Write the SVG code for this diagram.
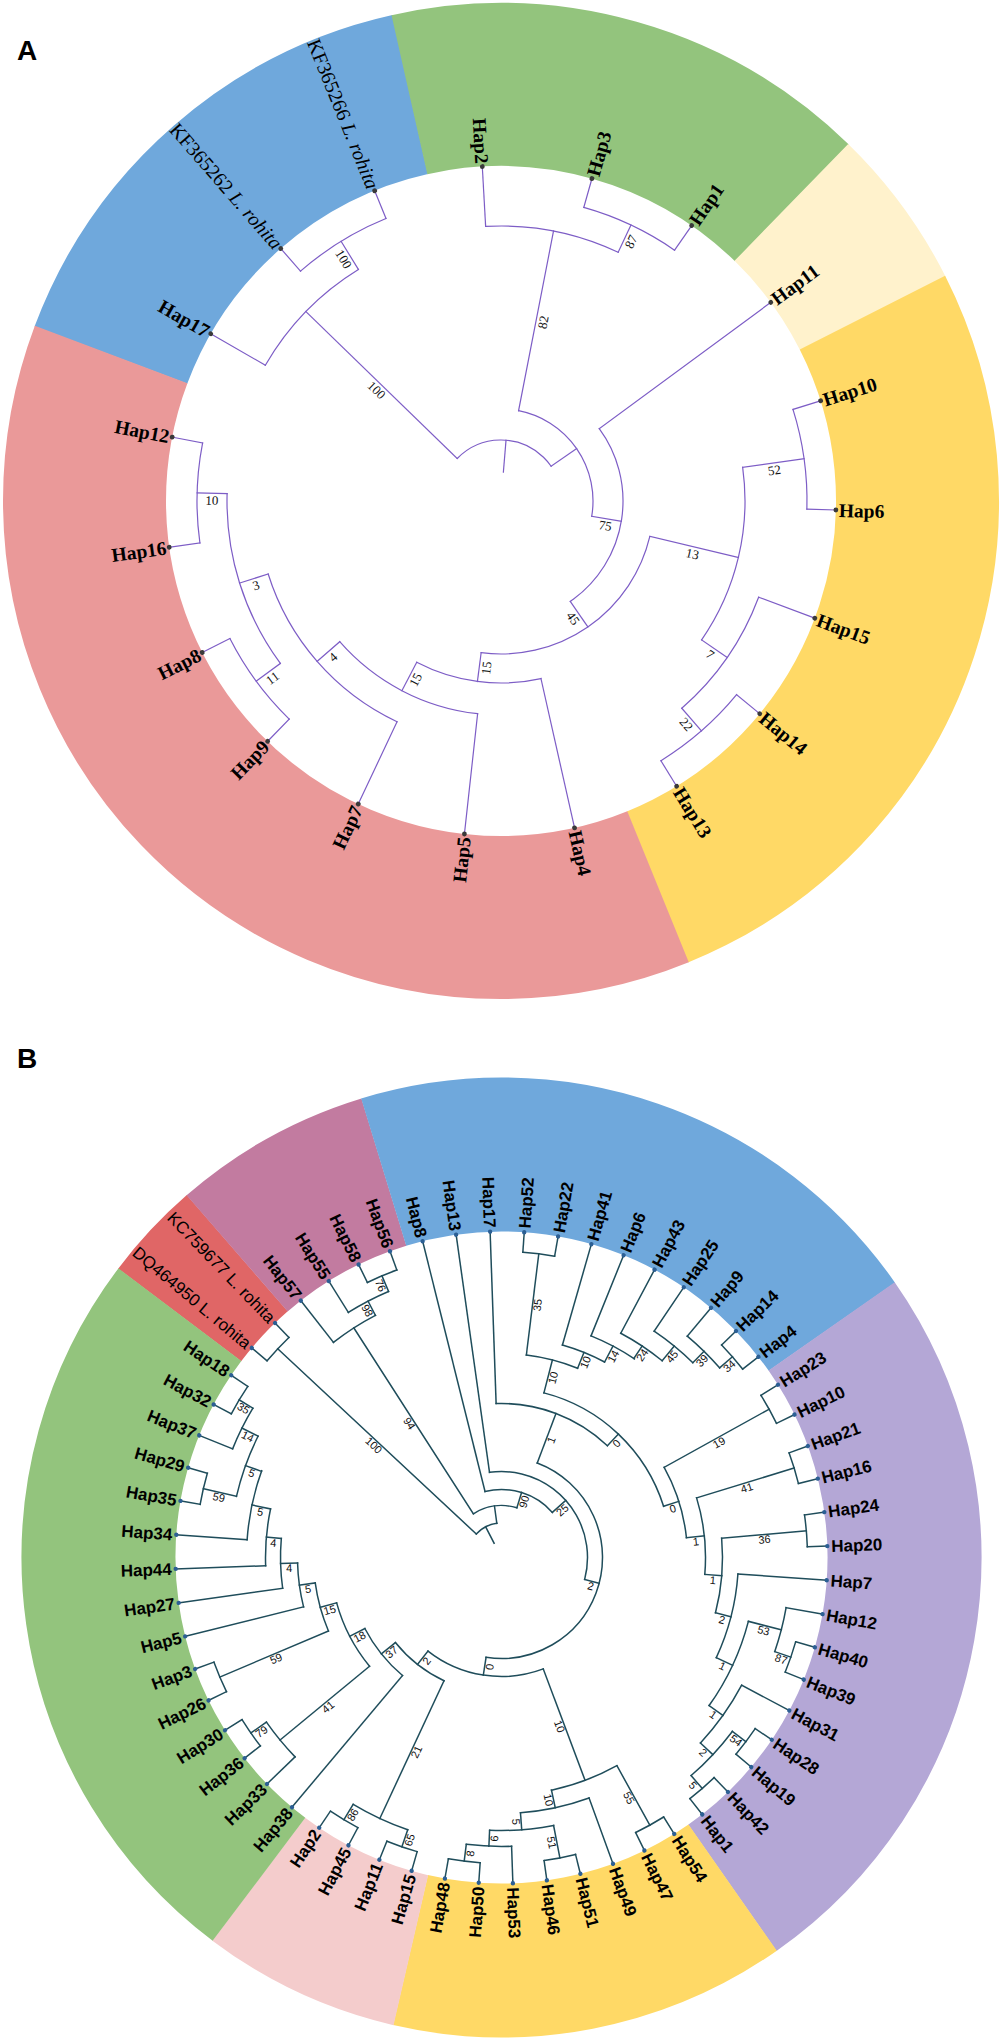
<svg xmlns="http://www.w3.org/2000/svg" width="1004" height="2041" viewBox="0 0 1004 2041">
<style>
.ring circle{fill:none}
.ca line,.ca circle{stroke:#7d5dc6;stroke-width:1.2;fill:none;stroke-linecap:square}
.cb line,.cb circle{stroke:#1f4d5b;stroke-width:1.5;fill:none;stroke-linecap:square}
.da{fill:#3a3a3a}
.db{fill:#2c5f94}
.ta{font-family:"Liberation Serif","Times New Roman",serif;font-weight:bold;font-size:19.5px;fill:#000}
.tk{font-family:"Liberation Serif","Times New Roman",serif;font-size:20px;fill:#000}
.tb{font-family:"Liberation Sans",Arial,sans-serif;font-weight:bold;font-size:17px;fill:#000}
.tr{font-family:"Liberation Sans",Arial,sans-serif;font-size:17px;fill:#000}
.sa text{font-family:"Liberation Serif","Times New Roman",serif;font-size:13px;fill:#111;text-anchor:middle}
.sb text{font-family:"Liberation Sans",Arial,sans-serif;font-size:11px;fill:#111;text-anchor:middle}
.e{text-anchor:end}
.pl{font-family:"Liberation Sans",Arial,sans-serif;font-weight:bold;font-size:28px;fill:#000}
</style>
<rect width="1004" height="2041" fill="#fff"/>
<text class="pl" x="17" y="60">A</text>
<text class="pl" x="17" y="1068">B</text>

<!-- Panel A clade ring -->
<g id="clades-a" class="ring" transform="translate(501 501)" stroke-width="163">
<circle r="416.5" pathLength="360" stroke="#6fa8dc" stroke-dasharray="56.9 360" transform="rotate(200.5)"/>
<circle r="416.5" pathLength="360" stroke="#93c47d" stroke-dasharray="57 360" transform="rotate(257.3)"/>
<circle r="416.5" pathLength="360" stroke="#fff2cc" stroke-dasharray="19 360" transform="rotate(314.2)"/>
<circle r="416.5" pathLength="360" stroke="#ffd966" stroke-dasharray="94.85 360" transform="rotate(333.1)"/>
<circle r="416.5" pathLength="360" stroke="#ea9999" stroke-dasharray="132.75 360" transform="rotate(67.85)"/>
</g>

<!-- Panel A connectors -->
<g id="connectors-a" class="ca" transform="translate(501 501)">
<circle r="305" pathLength="360" stroke-dasharray="18.95 360" transform="rotate(228.9)"/>
<circle r="272" pathLength="360" stroke-dasharray="28.43 360" transform="rotate(209.95)"/>
<circle r="305" pathLength="360" stroke-dasharray="18.94 360" transform="rotate(285.75)"/>
<circle r="275" pathLength="360" stroke-dasharray="28.42 360" transform="rotate(266.8)"/>
<circle r="306" pathLength="360" stroke-dasharray="18.95 360" transform="rotate(342.59)"/>
<circle r="305" pathLength="360" stroke-dasharray="18.95 360" transform="rotate(39.43)"/>
<circle r="275" pathLength="360" stroke-dasharray="28.43 360" transform="rotate(20.48)"/>
<circle r="244" pathLength="360" stroke-dasharray="42.63 360" transform="rotate(352.065)"/>
<circle r="304" pathLength="360" stroke-dasharray="18.95 360" transform="rotate(134.16)"/>
<circle r="304" pathLength="360" stroke-dasharray="18.94 360" transform="rotate(172.06)"/>
<circle r="274" pathLength="360" stroke-dasharray="37.9 360" transform="rotate(143.635)"/>
<circle r="244" pathLength="360" stroke-dasharray="47.36 360" transform="rotate(115.22)"/>
<circle r="214" pathLength="360" stroke-dasharray="42.63 360" transform="rotate(96.27)"/>
<circle r="182" pathLength="360" stroke-dasharray="40.27 360" transform="rotate(77.32)"/>
<circle r="153" pathLength="360" stroke-dasharray="84.07 360" transform="rotate(13.38)"/>
<circle r="122" pathLength="360" stroke-dasharray="91.78 360" transform="rotate(323.64)"/>
<circle r="92" pathLength="360" stroke-dasharray="88.52 360" transform="rotate(281.01)"/>
<circle r="61" pathLength="360" stroke-dasharray="101.11 360" transform="rotate(224.16)"/>
<line x1="272" x2="305" transform="rotate(238.375)"/>
<line x1="61" x2="272" transform="rotate(224.16)"/>
<line x1="275" x2="305" transform="rotate(295.22)"/>
<line x1="92" x2="275" transform="rotate(281.01)"/>
<line x1="244" x2="306" transform="rotate(352.065)"/>
<line x1="275" x2="305" transform="rotate(48.905)"/>
<line x1="244" x2="275" transform="rotate(34.69)"/>
<line x1="153" x2="244" transform="rotate(13.38)"/>
<line x1="274" x2="304" transform="rotate(143.635)"/>
<line x1="274" x2="304" transform="rotate(181.53)"/>
<line x1="244" x2="274" transform="rotate(162.58)"/>
<line x1="214" x2="244" transform="rotate(138.9)"/>
<line x1="182" x2="214" transform="rotate(117.585)"/>
<line x1="153" x2="182" transform="rotate(97.45)"/>
<line x1="122" x2="153" transform="rotate(55.415)"/>
<line x1="92" x2="122" transform="rotate(9.53)"/>
<line x1="61" x2="92" transform="rotate(325.27)"/>
<line x1="29" x2="61" transform="rotate(274.715)"/>
<line x1="275" x2="335" transform="rotate(266.8)"/>
<line x1="305" x2="335" transform="rotate(285.75)"/>
<line x1="305" x2="335" transform="rotate(304.69)"/>
<line x1="122" x2="335" transform="rotate(323.64)"/>
<line x1="306" x2="335" transform="rotate(342.59)"/>
<line x1="306" x2="335" transform="rotate(1.54)"/>
<line x1="275" x2="335" transform="rotate(20.48)"/>
<line x1="305" x2="335" transform="rotate(39.43)"/>
<line x1="305" x2="335" transform="rotate(58.38)"/>
<line x1="182" x2="335" transform="rotate(77.32)"/>
<line x1="214" x2="335" transform="rotate(96.27)"/>
<line x1="244" x2="335" transform="rotate(115.22)"/>
<line x1="304" x2="335" transform="rotate(134.16)"/>
<line x1="304" x2="335" transform="rotate(153.11)"/>
<line x1="304" x2="335" transform="rotate(172.06)"/>
<line x1="304" x2="335" transform="rotate(191)"/>
<line x1="272" x2="335" transform="rotate(209.95)"/>
<line x1="305" x2="335" transform="rotate(228.9)"/>
<line x1="305" x2="335" transform="rotate(247.85)"/>
</g>

<!-- Panel A support values -->
<g id="support-a" class="sa" transform="translate(501 501)">
<text transform="rotate(238.375) translate(288.5 0) rotate(180)" y="7" dy=".35em">100</text>
<text transform="rotate(224.16) translate(166.5 0) rotate(180)" y="7" dy=".35em">100</text>
<text transform="rotate(295.22) translate(290 0)" y="7" dy=".35em">87</text>
<text transform="rotate(281.01) translate(183.5 0)" y="7" dy=".35em">82</text>
<text transform="rotate(352.065) translate(275 0)" y="7" dy=".35em">52</text>
<text transform="rotate(48.905) translate(290 0)" y="7" dy=".35em">22</text>
<text transform="rotate(34.69) translate(259.5 0)" y="7" dy=".35em">7</text>
<text transform="rotate(13.38) translate(198.5 0)" y="7" dy=".35em">13</text>
<text transform="rotate(143.635) translate(289 0) rotate(180)" y="7" dy=".35em">11</text>
<text transform="rotate(181.53) translate(289 0) rotate(180)" y="7" dy=".35em">10</text>
<text transform="rotate(162.58) translate(259 0) rotate(180)" y="7" dy=".35em">3</text>
<text transform="rotate(138.9) translate(229 0) rotate(180)" y="7" dy=".35em">4</text>
<text transform="rotate(117.585) translate(198 0) rotate(180)" y="7" dy=".35em">15</text>
<text transform="rotate(97.45) translate(167.5 0) rotate(180)" y="7" dy=".35em">15</text>
<text transform="rotate(55.415) translate(137.5 0)" y="7" dy=".35em">45</text>
<text transform="rotate(9.53) translate(107 0)" y="7" dy=".35em">75</text>
</g>

<!-- Panel A leaves -->
<g id="leaves-a" transform="translate(501 501)">
<g id="a-hap2" transform="rotate(266.8)"><circle class="da" cx="335" r="2.4"/><text class="ta e" transform="translate(338 0) rotate(180)" dy=".35em">Hap2</text></g>
<g id="a-hap3" transform="rotate(285.75)"><circle class="da" cx="335" r="2.4"/><text class="ta" x="338" dy=".35em">Hap3</text></g>
<g id="a-hap1" transform="rotate(304.69)"><circle class="da" cx="335" r="2.4"/><text class="ta" x="338" dy=".35em">Hap1</text></g>
<g id="a-hap11" transform="rotate(323.64)"><circle class="da" cx="335" r="2.4"/><text class="ta" x="338" dy=".35em">Hap11</text></g>
<g id="a-hap10" transform="rotate(342.59)"><circle class="da" cx="335" r="2.4"/><text class="ta" x="338" dy=".35em">Hap10</text></g>
<g id="a-hap6" transform="rotate(1.54)"><circle class="da" cx="335" r="2.4"/><text class="ta" x="338" dy=".35em">Hap6</text></g>
<g id="a-hap15" transform="rotate(20.48)"><circle class="da" cx="335" r="2.4"/><text class="ta" x="338" dy=".35em">Hap15</text></g>
<g id="a-hap14" transform="rotate(39.43)"><circle class="da" cx="335" r="2.4"/><text class="ta" x="338" dy=".35em">Hap14</text></g>
<g id="a-hap13" transform="rotate(58.38)"><circle class="da" cx="335" r="2.4"/><text class="ta" x="338" dy=".35em">Hap13</text></g>
<g id="a-hap4" transform="rotate(77.32)"><circle class="da" cx="335" r="2.4"/><text class="ta" x="338" dy=".35em">Hap4</text></g>
<g id="a-hap5" transform="rotate(96.27)"><circle class="da" cx="335" r="2.4"/><text class="ta e" transform="translate(338 0) rotate(180)" dy=".35em">Hap5</text></g>
<g id="a-hap7" transform="rotate(115.22)"><circle class="da" cx="335" r="2.4"/><text class="ta e" transform="translate(338 0) rotate(180)" dy=".35em">Hap7</text></g>
<g id="a-hap9" transform="rotate(134.16)"><circle class="da" cx="335" r="2.4"/><text class="ta e" transform="translate(338 0) rotate(180)" dy=".35em">Hap9</text></g>
<g id="a-hap8" transform="rotate(153.11)"><circle class="da" cx="335" r="2.4"/><text class="ta e" transform="translate(338 0) rotate(180)" dy=".35em">Hap8</text></g>
<g id="a-hap16" transform="rotate(172.06)"><circle class="da" cx="335" r="2.4"/><text class="ta e" transform="translate(338 0) rotate(180)" dy=".35em">Hap16</text></g>
<g id="a-hap12" transform="rotate(191)"><circle class="da" cx="335" r="2.4"/><text class="ta e" transform="translate(338 0) rotate(180)" dy=".35em">Hap12</text></g>
<g id="a-hap17" transform="rotate(209.95)"><circle class="da" cx="335" r="2.4"/><text class="ta e" transform="translate(338 0) rotate(180)" dy=".35em">Hap17</text></g>
<g id="a-kf365262" transform="rotate(228.9)"><circle class="da" cx="335" r="2.4"/><text class="tk e" transform="translate(338 0) rotate(180)" dy=".35em">KF365262 <tspan font-style="italic">L. rohita</tspan></text></g>
<g id="a-kf365266" transform="rotate(247.85)"><circle class="da" cx="335" r="2.4"/><text class="tk e" transform="translate(338 0) rotate(180)" dy=".35em">KF365266 <tspan font-style="italic">L. rohita</tspan></text></g>
</g>

<!-- Panel B clade ring -->
<g id="clades-b" class="ring" transform="translate(501.5 1557.5)" stroke-width="154">
<circle r="403" pathLength="360" stroke="#e06666" stroke-dasharray="12.05 360" transform="rotate(217)"/>
<circle r="403" pathLength="360" stroke="#c27ba0" stroke-dasharray="24.05 360" transform="rotate(229)"/>
<circle r="403" pathLength="360" stroke="#6fa8dc" stroke-dasharray="72.05 360" transform="rotate(253)"/>
<circle r="403" pathLength="360" stroke="#b4a7d6" stroke-dasharray="90.05 360" transform="rotate(325)"/>
<circle r="403" pathLength="360" stroke="#ffd966" stroke-dasharray="48.05 360" transform="rotate(55)"/>
<circle r="403" pathLength="360" stroke="#f4cccc" stroke-dasharray="24.05 360" transform="rotate(103)"/>
<circle r="403" pathLength="360" stroke="#93c47d" stroke-dasharray="90.05 360" transform="rotate(127)"/>
</g>

<!-- Panel B connectors -->
<g id="connectors-b" class="cb" transform="translate(501.5 1557.5)">
<circle r="306" pathLength="360" stroke-dasharray="6 360" transform="rotate(220)"/>
<circle r="306" pathLength="360" stroke-dasharray="6 360" transform="rotate(244)"/>
<circle r="289" pathLength="360" stroke-dasharray="9 360" transform="rotate(238)"/>
<circle r="273" pathLength="360" stroke-dasharray="10.5 360" transform="rotate(232)"/>
<circle r="306" pathLength="360" stroke-dasharray="6 360" transform="rotate(316)"/>
<circle r="289" pathLength="360" stroke-dasharray="9 360" transform="rotate(310)"/>
<circle r="273" pathLength="360" stroke-dasharray="10.5 360" transform="rotate(304)"/>
<circle r="254" pathLength="360" stroke-dasharray="11.25 360" transform="rotate(298)"/>
<circle r="239" pathLength="360" stroke-dasharray="11.81 360" transform="rotate(292)"/>
<circle r="221" pathLength="360" stroke-dasharray="11.81 360" transform="rotate(286)"/>
<circle r="306" pathLength="360" stroke-dasharray="6 360" transform="rotate(274)"/>
<circle r="204" pathLength="360" stroke-dasharray="14.91 360" transform="rotate(277)"/>
<circle r="306" pathLength="360" stroke-dasharray="6 360" transform="rotate(328)"/>
<circle r="306" pathLength="360" stroke-dasharray="6 360" transform="rotate(340)"/>
<circle r="306" pathLength="360" stroke-dasharray="6 360" transform="rotate(352)"/>
<circle r="306" pathLength="360" stroke-dasharray="6 360" transform="rotate(16)"/>
<circle r="289" pathLength="360" stroke-dasharray="9 360" transform="rotate(10)"/>
<circle r="306" pathLength="360" stroke-dasharray="6 360" transform="rotate(34)"/>
<circle r="306" pathLength="360" stroke-dasharray="6 360" transform="rotate(46)"/>
<circle r="289" pathLength="360" stroke-dasharray="12 360" transform="rotate(37)"/>
<circle r="272" pathLength="360" stroke-dasharray="15 360" transform="rotate(28)"/>
<circle r="255" pathLength="360" stroke-dasharray="21 360" transform="rotate(14.5)"/>
<circle r="237" pathLength="360" stroke-dasharray="21 360" transform="rotate(4)"/>
<circle r="221" pathLength="360" stroke-dasharray="19.5 360" transform="rotate(355)"/>
<circle r="204" pathLength="360" stroke-dasharray="21.75 360" transform="rotate(343)"/>
<circle r="186" pathLength="360" stroke-dasharray="22.88 360" transform="rotate(331)"/>
<circle r="170" pathLength="360" stroke-dasharray="57.99 360" transform="rotate(284.45)"/>
<circle r="154" pathLength="360" stroke-dasharray="45.45 360" transform="rotate(268)"/>
<circle r="306" pathLength="360" stroke-dasharray="6 360" transform="rotate(58)"/>
<circle r="306" pathLength="360" stroke-dasharray="6 360" transform="rotate(76)"/>
<circle r="306" pathLength="360" stroke-dasharray="6 360" transform="rotate(94)"/>
<circle r="289" pathLength="360" stroke-dasharray="9 360" transform="rotate(88)"/>
<circle r="273" pathLength="360" stroke-dasharray="13.5 360" transform="rotate(79)"/>
<circle r="256" pathLength="360" stroke-dasharray="15.75 360" transform="rotate(70)"/>
<circle r="238" pathLength="360" stroke-dasharray="16.88 360" transform="rotate(61)"/>
<circle r="306" pathLength="360" stroke-dasharray="6 360" transform="rotate(118)"/>
<circle r="306" pathLength="360" stroke-dasharray="6 360" transform="rotate(106)"/>
<circle r="288" pathLength="360" stroke-dasharray="12 360" transform="rotate(109)"/>
<circle r="306" pathLength="360" stroke-dasharray="6 360" transform="rotate(142)"/>
<circle r="287" pathLength="360" stroke-dasharray="9 360" transform="rotate(136)"/>
<circle r="306" pathLength="360" stroke-dasharray="6 360" transform="rotate(154)"/>
<circle r="306" pathLength="360" stroke-dasharray="6 360" transform="rotate(208)"/>
<circle r="290" pathLength="360" stroke-dasharray="9 360" transform="rotate(202)"/>
<circle r="306" pathLength="360" stroke-dasharray="6 360" transform="rotate(190)"/>
<circle r="272" pathLength="360" stroke-dasharray="13.5 360" transform="rotate(193)"/>
<circle r="255" pathLength="360" stroke-dasharray="15.88 360" transform="rotate(184)"/>
<circle r="236" pathLength="360" stroke-dasharray="13.88 360" transform="rotate(178)"/>
<circle r="221" pathLength="360" stroke-dasharray="12.94 360" transform="rotate(172)"/>
<circle r="204" pathLength="360" stroke-dasharray="12.47 360" transform="rotate(166)"/>
<circle r="188" pathLength="360" stroke-dasharray="15.23 360" transform="rotate(157)"/>
<circle r="171" pathLength="360" stroke-dasharray="24.12 360" transform="rotate(140.5)"/>
<circle r="154" pathLength="360" stroke-dasharray="22.56 360" transform="rotate(130)"/>
<circle r="136" pathLength="360" stroke-dasharray="26.28 360" transform="rotate(115)"/>
<circle r="119" pathLength="360" stroke-dasharray="58.7 360" transform="rotate(69.44)"/>
<circle r="101" pathLength="360" stroke-dasharray="168.07 360" transform="rotate(290.72)"/>
<circle r="86" pathLength="360" stroke-dasharray="112.76 360" transform="rotate(262)"/>
<circle r="68" pathLength="360" stroke-dasharray="62.38 360" transform="rotate(256)"/>
<circle r="52" pathLength="360" stroke-dasharray="49.94 360" transform="rotate(237.25)"/>
<circle r="34.5" pathLength="360" stroke-dasharray="39.22 360" transform="rotate(223)"/>
<line x1="34.5" x2="306" transform="rotate(223)"/>
<line x1="289" x2="306" transform="rotate(247)"/>
<line x1="273" x2="289" transform="rotate(242.5)"/>
<line x1="52" x2="273" transform="rotate(237.25)"/>
<line x1="289" x2="306" transform="rotate(319)"/>
<line x1="273" x2="289" transform="rotate(314.5)"/>
<line x1="254" x2="273" transform="rotate(309.25)"/>
<line x1="239" x2="254" transform="rotate(303.63)"/>
<line x1="221" x2="239" transform="rotate(297.81)"/>
<line x1="204" x2="221" transform="rotate(291.91)"/>
<line x1="204" x2="306" transform="rotate(277)"/>
<line x1="170" x2="204" transform="rotate(284.45)"/>
<line x1="186" x2="306" transform="rotate(331)"/>
<line x1="204" x2="306" transform="rotate(343)"/>
<line x1="221" x2="306" transform="rotate(355)"/>
<line x1="289" x2="306" transform="rotate(19)"/>
<line x1="255" x2="289" transform="rotate(14.5)"/>
<line x1="289" x2="306" transform="rotate(37)"/>
<line x1="289" x2="306" transform="rotate(49)"/>
<line x1="272" x2="289" transform="rotate(43)"/>
<line x1="255" x2="272" transform="rotate(35.5)"/>
<line x1="237" x2="255" transform="rotate(25)"/>
<line x1="221" x2="237" transform="rotate(14.5)"/>
<line x1="204" x2="221" transform="rotate(4.75)"/>
<line x1="186" x2="204" transform="rotate(353.88)"/>
<line x1="170" x2="186" transform="rotate(342.44)"/>
<line x1="154" x2="170" transform="rotate(313.45)"/>
<line x1="101" x2="154" transform="rotate(290.72)"/>
<line x1="238" x2="306" transform="rotate(61)"/>
<line x1="273" x2="306" transform="rotate(79)"/>
<line x1="289" x2="306" transform="rotate(97)"/>
<line x1="273" x2="289" transform="rotate(92.5)"/>
<line x1="256" x2="273" transform="rotate(85.75)"/>
<line x1="238" x2="256" transform="rotate(77.88)"/>
<line x1="119" x2="238" transform="rotate(69.44)"/>
<line x1="288" x2="306" transform="rotate(121)"/>
<line x1="288" x2="306" transform="rotate(109)"/>
<line x1="136" x2="288" transform="rotate(115)"/>
<line x1="287" x2="306" transform="rotate(145)"/>
<line x1="171" x2="287" transform="rotate(140.5)"/>
<line x1="188" x2="306" transform="rotate(157)"/>
<line x1="290" x2="306" transform="rotate(211)"/>
<line x1="272" x2="290" transform="rotate(206.5)"/>
<line x1="272" x2="306" transform="rotate(193)"/>
<line x1="255" x2="272" transform="rotate(199.75)"/>
<line x1="236" x2="255" transform="rotate(191.88)"/>
<line x1="221" x2="236" transform="rotate(184.94)"/>
<line x1="204" x2="221" transform="rotate(178.47)"/>
<line x1="188" x2="204" transform="rotate(172.23)"/>
<line x1="171" x2="188" transform="rotate(164.62)"/>
<line x1="154" x2="171" transform="rotate(152.56)"/>
<line x1="136" x2="154" transform="rotate(141.28)"/>
<line x1="119" x2="136" transform="rotate(128.14)"/>
<line x1="101" x2="119" transform="rotate(98.79)"/>
<line x1="86" x2="101" transform="rotate(14.76)"/>
<line x1="68" x2="86" transform="rotate(318.38)"/>
<line x1="52" x2="68" transform="rotate(287.19)"/>
<line x1="34.5" x2="52" transform="rotate(262.22)"/>
<line x1="16" x2="34.5" transform="rotate(242.61)"/>
<line x1="306" x2="326" transform="rotate(220)"/>
<line x1="306" x2="326" transform="rotate(226)"/>
<line x1="273" x2="326" transform="rotate(232)"/>
<line x1="289" x2="326" transform="rotate(238)"/>
<line x1="306" x2="326" transform="rotate(244)"/>
<line x1="306" x2="326" transform="rotate(250)"/>
<line x1="68" x2="326" transform="rotate(256)"/>
<line x1="86" x2="326" transform="rotate(262)"/>
<line x1="154" x2="326" transform="rotate(268)"/>
<line x1="306" x2="326" transform="rotate(274)"/>
<line x1="306" x2="326" transform="rotate(280)"/>
<line x1="221" x2="326" transform="rotate(286)"/>
<line x1="239" x2="326" transform="rotate(292)"/>
<line x1="254" x2="326" transform="rotate(298)"/>
<line x1="273" x2="326" transform="rotate(304)"/>
<line x1="289" x2="326" transform="rotate(310)"/>
<line x1="306" x2="326" transform="rotate(316)"/>
<line x1="306" x2="326" transform="rotate(322)"/>
<line x1="306" x2="326" transform="rotate(328)"/>
<line x1="306" x2="326" transform="rotate(334)"/>
<line x1="306" x2="326" transform="rotate(340)"/>
<line x1="306" x2="326" transform="rotate(346)"/>
<line x1="306" x2="326" transform="rotate(352)"/>
<line x1="306" x2="326" transform="rotate(358)"/>
<line x1="237" x2="326" transform="rotate(4)"/>
<line x1="289" x2="326" transform="rotate(10)"/>
<line x1="306" x2="326" transform="rotate(16)"/>
<line x1="306" x2="326" transform="rotate(22)"/>
<line x1="272" x2="326" transform="rotate(28)"/>
<line x1="306" x2="326" transform="rotate(34)"/>
<line x1="306" x2="326" transform="rotate(40)"/>
<line x1="306" x2="326" transform="rotate(46)"/>
<line x1="306" x2="326" transform="rotate(52)"/>
<line x1="306" x2="326" transform="rotate(58)"/>
<line x1="306" x2="326" transform="rotate(64)"/>
<line x1="256" x2="326" transform="rotate(70)"/>
<line x1="306" x2="326" transform="rotate(76)"/>
<line x1="306" x2="326" transform="rotate(82)"/>
<line x1="289" x2="326" transform="rotate(88)"/>
<line x1="306" x2="326" transform="rotate(94)"/>
<line x1="306" x2="326" transform="rotate(100)"/>
<line x1="306" x2="326" transform="rotate(106)"/>
<line x1="306" x2="326" transform="rotate(112)"/>
<line x1="306" x2="326" transform="rotate(118)"/>
<line x1="306" x2="326" transform="rotate(124)"/>
<line x1="154" x2="326" transform="rotate(130)"/>
<line x1="287" x2="326" transform="rotate(136)"/>
<line x1="306" x2="326" transform="rotate(142)"/>
<line x1="306" x2="326" transform="rotate(148)"/>
<line x1="306" x2="326" transform="rotate(154)"/>
<line x1="306" x2="326" transform="rotate(160)"/>
<line x1="204" x2="326" transform="rotate(166)"/>
<line x1="221" x2="326" transform="rotate(172)"/>
<line x1="236" x2="326" transform="rotate(178)"/>
<line x1="255" x2="326" transform="rotate(184)"/>
<line x1="306" x2="326" transform="rotate(190)"/>
<line x1="306" x2="326" transform="rotate(196)"/>
<line x1="290" x2="326" transform="rotate(202)"/>
<line x1="306" x2="326" transform="rotate(208)"/>
<line x1="306" x2="326" transform="rotate(214)"/>
</g>

<!-- Panel B support values -->
<g id="support-b" class="sb" transform="translate(501.5 1557.5)">
<text transform="rotate(223) translate(170 0) rotate(180)" y="5" dy=".35em">100</text>
<text transform="rotate(247) translate(297.5 0) rotate(180)" y="5" dy=".35em">76</text>
<text transform="rotate(242.5) translate(281 0) rotate(180)" y="5" dy=".35em">98</text>
<text transform="rotate(237.25) translate(162.5 0) rotate(180)" y="5" dy=".35em">94</text>
<text transform="rotate(319) translate(297.5 0)" y="5" dy=".35em">34</text>
<text transform="rotate(314.5) translate(281 0)" y="5" dy=".35em">39</text>
<text transform="rotate(309.25) translate(263.5 0)" y="5" dy=".35em">45</text>
<text transform="rotate(303.63) translate(246.5 0)" y="5" dy=".35em">24</text>
<text transform="rotate(297.81) translate(230 0)" y="5" dy=".35em">14</text>
<text transform="rotate(291.91) translate(212.5 0)" y="5" dy=".35em">10</text>
<text transform="rotate(277) translate(255 0)" y="5" dy=".35em">35</text>
<text transform="rotate(284.45) translate(187 0)" y="5" dy=".35em">10</text>
<text transform="rotate(331) translate(246 0)" y="5" dy=".35em">19</text>
<text transform="rotate(343) translate(255 0)" y="5" dy=".35em">41</text>
<text transform="rotate(355) translate(263.5 0)" y="5" dy=".35em">36</text>
<text transform="rotate(19) translate(297.5 0)" y="5" dy=".35em">87</text>
<text transform="rotate(14.5) translate(272 0)" y="5" dy=".35em">53</text>
<text transform="rotate(37) translate(297.5 0)" y="5" dy=".35em">54</text>
<text transform="rotate(49) translate(297.5 0)" y="5" dy=".35em">5</text>
<text transform="rotate(43) translate(280.5 0)" y="5" dy=".35em">2</text>
<text transform="rotate(35.5) translate(263.5 0)" y="5" dy=".35em">1</text>
<text transform="rotate(25) translate(246 0)" y="5" dy=".35em">1</text>
<text transform="rotate(14.5) translate(229 0)" y="5" dy=".35em">2</text>
<text transform="rotate(4.75) translate(212.5 0)" y="5" dy=".35em">1</text>
<text transform="rotate(353.88) translate(195 0)" y="5" dy=".35em">1</text>
<text transform="rotate(342.44) translate(178 0)" y="5" dy=".35em">0</text>
<text transform="rotate(313.45) translate(162 0)" y="5" dy=".35em">0</text>
<text transform="rotate(290.72) translate(127.5 0)" y="5" dy=".35em">1</text>
<text transform="rotate(61) translate(272 0)" y="5" dy=".35em">55</text>
<text transform="rotate(79) translate(289.5 0)" y="5" dy=".35em">51</text>
<text transform="rotate(97) translate(297.5 0) rotate(180)" y="5" dy=".35em">8</text>
<text transform="rotate(92.5) translate(281 0) rotate(180)" y="5" dy=".35em">6</text>
<text transform="rotate(85.75) translate(264.5 0)" y="5" dy=".35em">5</text>
<text transform="rotate(77.88) translate(247 0)" y="5" dy=".35em">10</text>
<text transform="rotate(69.44) translate(178.5 0)" y="5" dy=".35em">10</text>
<text transform="rotate(121) translate(297 0) rotate(180)" y="5" dy=".35em">86</text>
<text transform="rotate(109) translate(297 0) rotate(180)" y="5" dy=".35em">65</text>
<text transform="rotate(115) translate(212 0) rotate(180)" y="5" dy=".35em">21</text>
<text transform="rotate(145) translate(296.5 0) rotate(180)" y="5" dy=".35em">79</text>
<text transform="rotate(140.5) translate(229 0) rotate(180)" y="5" dy=".35em">41</text>
<text transform="rotate(157) translate(247 0) rotate(180)" y="5" dy=".35em">59</text>
<text transform="rotate(211) translate(298 0) rotate(180)" y="5" dy=".35em">35</text>
<text transform="rotate(206.5) translate(281 0) rotate(180)" y="5" dy=".35em">14</text>
<text transform="rotate(193) translate(289 0) rotate(180)" y="5" dy=".35em">59</text>
<text transform="rotate(199.75) translate(263.5 0) rotate(180)" y="5" dy=".35em">5</text>
<text transform="rotate(191.88) translate(245.5 0) rotate(180)" y="5" dy=".35em">5</text>
<text transform="rotate(184.94) translate(228.5 0) rotate(180)" y="5" dy=".35em">4</text>
<text transform="rotate(178.47) translate(212.5 0) rotate(180)" y="5" dy=".35em">4</text>
<text transform="rotate(172.23) translate(196 0) rotate(180)" y="5" dy=".35em">5</text>
<text transform="rotate(164.62) translate(179.5 0) rotate(180)" y="5" dy=".35em">15</text>
<text transform="rotate(152.56) translate(162.5 0) rotate(180)" y="5" dy=".35em">18</text>
<text transform="rotate(141.28) translate(145 0) rotate(180)" y="5" dy=".35em">37</text>
<text transform="rotate(128.14) translate(127.5 0) rotate(180)" y="5" dy=".35em">2</text>
<text transform="rotate(98.79) translate(110 0) rotate(180)" y="5" dy=".35em">0</text>
<text transform="rotate(14.76) translate(93.5 0)" y="5" dy=".35em">2</text>
<text transform="rotate(318.38) translate(77 0)" y="5" dy=".35em">25</text>
<text transform="rotate(287.19) translate(60 0)" y="5" dy=".35em">90</text>
</g>

<!-- Panel B leaves -->
<g id="leaves-b" transform="translate(501.5 1557.5)">
<g id="b-dq464950" transform="rotate(220)"><circle class="db" cx="326" r="2.2"/><text class="tr e" transform="translate(330 0) rotate(180)" dy=".35em">DQ464950 L. rohita</text></g>
<g id="b-kc759677" transform="rotate(226)"><circle class="db" cx="326" r="2.2"/><text class="tr e" transform="translate(330 0) rotate(180)" dy=".35em">KC759677 L. rohita</text></g>
<g id="b-hap57" transform="rotate(232)"><circle class="db" cx="326" r="2.2"/><text class="tb e" transform="translate(330 0) rotate(180)" dy=".35em">Hap57</text></g>
<g id="b-hap55" transform="rotate(238)"><circle class="db" cx="326" r="2.2"/><text class="tb e" transform="translate(330 0) rotate(180)" dy=".35em">Hap55</text></g>
<g id="b-hap58" transform="rotate(244)"><circle class="db" cx="326" r="2.2"/><text class="tb e" transform="translate(330 0) rotate(180)" dy=".35em">Hap58</text></g>
<g id="b-hap56" transform="rotate(250)"><circle class="db" cx="326" r="2.2"/><text class="tb e" transform="translate(330 0) rotate(180)" dy=".35em">Hap56</text></g>
<g id="b-hap8" transform="rotate(256)"><circle class="db" cx="326" r="2.2"/><text class="tb e" transform="translate(330 0) rotate(180)" dy=".35em">Hap8</text></g>
<g id="b-hap13" transform="rotate(262)"><circle class="db" cx="326" r="2.2"/><text class="tb e" transform="translate(330 0) rotate(180)" dy=".35em">Hap13</text></g>
<g id="b-hap17" transform="rotate(268)"><circle class="db" cx="326" r="2.2"/><text class="tb e" transform="translate(330 0) rotate(180)" dy=".35em">Hap17</text></g>
<g id="b-hap52" transform="rotate(274)"><circle class="db" cx="326" r="2.2"/><text class="tb" x="330" dy=".35em">Hap52</text></g>
<g id="b-hap22" transform="rotate(280)"><circle class="db" cx="326" r="2.2"/><text class="tb" x="330" dy=".35em">Hap22</text></g>
<g id="b-hap41" transform="rotate(286)"><circle class="db" cx="326" r="2.2"/><text class="tb" x="330" dy=".35em">Hap41</text></g>
<g id="b-hap6" transform="rotate(292)"><circle class="db" cx="326" r="2.2"/><text class="tb" x="330" dy=".35em">Hap6</text></g>
<g id="b-hap43" transform="rotate(298)"><circle class="db" cx="326" r="2.2"/><text class="tb" x="330" dy=".35em">Hap43</text></g>
<g id="b-hap25" transform="rotate(304)"><circle class="db" cx="326" r="2.2"/><text class="tb" x="330" dy=".35em">Hap25</text></g>
<g id="b-hap9" transform="rotate(310)"><circle class="db" cx="326" r="2.2"/><text class="tb" x="330" dy=".35em">Hap9</text></g>
<g id="b-hap14" transform="rotate(316)"><circle class="db" cx="326" r="2.2"/><text class="tb" x="330" dy=".35em">Hap14</text></g>
<g id="b-hap4" transform="rotate(322)"><circle class="db" cx="326" r="2.2"/><text class="tb" x="330" dy=".35em">Hap4</text></g>
<g id="b-hap23" transform="rotate(328)"><circle class="db" cx="326" r="2.2"/><text class="tb" x="330" dy=".35em">Hap23</text></g>
<g id="b-hap10" transform="rotate(334)"><circle class="db" cx="326" r="2.2"/><text class="tb" x="330" dy=".35em">Hap10</text></g>
<g id="b-hap21" transform="rotate(340)"><circle class="db" cx="326" r="2.2"/><text class="tb" x="330" dy=".35em">Hap21</text></g>
<g id="b-hap16" transform="rotate(346)"><circle class="db" cx="326" r="2.2"/><text class="tb" x="330" dy=".35em">Hap16</text></g>
<g id="b-hap24" transform="rotate(352)"><circle class="db" cx="326" r="2.2"/><text class="tb" x="330" dy=".35em">Hap24</text></g>
<g id="b-hap20" transform="rotate(358)"><circle class="db" cx="326" r="2.2"/><text class="tb" x="330" dy=".35em">Hap20</text></g>
<g id="b-hap7" transform="rotate(4)"><circle class="db" cx="326" r="2.2"/><text class="tb" x="330" dy=".35em">Hap7</text></g>
<g id="b-hap12" transform="rotate(10)"><circle class="db" cx="326" r="2.2"/><text class="tb" x="330" dy=".35em">Hap12</text></g>
<g id="b-hap40" transform="rotate(16)"><circle class="db" cx="326" r="2.2"/><text class="tb" x="330" dy=".35em">Hap40</text></g>
<g id="b-hap39" transform="rotate(22)"><circle class="db" cx="326" r="2.2"/><text class="tb" x="330" dy=".35em">Hap39</text></g>
<g id="b-hap31" transform="rotate(28)"><circle class="db" cx="326" r="2.2"/><text class="tb" x="330" dy=".35em">Hap31</text></g>
<g id="b-hap28" transform="rotate(34)"><circle class="db" cx="326" r="2.2"/><text class="tb" x="330" dy=".35em">Hap28</text></g>
<g id="b-hap19" transform="rotate(40)"><circle class="db" cx="326" r="2.2"/><text class="tb" x="330" dy=".35em">Hap19</text></g>
<g id="b-hap42" transform="rotate(46)"><circle class="db" cx="326" r="2.2"/><text class="tb" x="330" dy=".35em">Hap42</text></g>
<g id="b-hap1" transform="rotate(52)"><circle class="db" cx="326" r="2.2"/><text class="tb" x="330" dy=".35em">Hap1</text></g>
<g id="b-hap54" transform="rotate(58)"><circle class="db" cx="326" r="2.2"/><text class="tb" x="330" dy=".35em">Hap54</text></g>
<g id="b-hap47" transform="rotate(64)"><circle class="db" cx="326" r="2.2"/><text class="tb" x="330" dy=".35em">Hap47</text></g>
<g id="b-hap49" transform="rotate(70)"><circle class="db" cx="326" r="2.2"/><text class="tb" x="330" dy=".35em">Hap49</text></g>
<g id="b-hap51" transform="rotate(76)"><circle class="db" cx="326" r="2.2"/><text class="tb" x="330" dy=".35em">Hap51</text></g>
<g id="b-hap46" transform="rotate(82)"><circle class="db" cx="326" r="2.2"/><text class="tb" x="330" dy=".35em">Hap46</text></g>
<g id="b-hap53" transform="rotate(88)"><circle class="db" cx="326" r="2.2"/><text class="tb" x="330" dy=".35em">Hap53</text></g>
<g id="b-hap50" transform="rotate(94)"><circle class="db" cx="326" r="2.2"/><text class="tb e" transform="translate(330 0) rotate(180)" dy=".35em">Hap50</text></g>
<g id="b-hap48" transform="rotate(100)"><circle class="db" cx="326" r="2.2"/><text class="tb e" transform="translate(330 0) rotate(180)" dy=".35em">Hap48</text></g>
<g id="b-hap15" transform="rotate(106)"><circle class="db" cx="326" r="2.2"/><text class="tb e" transform="translate(330 0) rotate(180)" dy=".35em">Hap15</text></g>
<g id="b-hap11" transform="rotate(112)"><circle class="db" cx="326" r="2.2"/><text class="tb e" transform="translate(330 0) rotate(180)" dy=".35em">Hap11</text></g>
<g id="b-hap45" transform="rotate(118)"><circle class="db" cx="326" r="2.2"/><text class="tb e" transform="translate(330 0) rotate(180)" dy=".35em">Hap45</text></g>
<g id="b-hap2" transform="rotate(124)"><circle class="db" cx="326" r="2.2"/><text class="tb e" transform="translate(330 0) rotate(180)" dy=".35em">Hap2</text></g>
<g id="b-hap38" transform="rotate(130)"><circle class="db" cx="326" r="2.2"/><text class="tb e" transform="translate(330 0) rotate(180)" dy=".35em">Hap38</text></g>
<g id="b-hap33" transform="rotate(136)"><circle class="db" cx="326" r="2.2"/><text class="tb e" transform="translate(330 0) rotate(180)" dy=".35em">Hap33</text></g>
<g id="b-hap36" transform="rotate(142)"><circle class="db" cx="326" r="2.2"/><text class="tb e" transform="translate(330 0) rotate(180)" dy=".35em">Hap36</text></g>
<g id="b-hap30" transform="rotate(148)"><circle class="db" cx="326" r="2.2"/><text class="tb e" transform="translate(330 0) rotate(180)" dy=".35em">Hap30</text></g>
<g id="b-hap26" transform="rotate(154)"><circle class="db" cx="326" r="2.2"/><text class="tb e" transform="translate(330 0) rotate(180)" dy=".35em">Hap26</text></g>
<g id="b-hap3" transform="rotate(160)"><circle class="db" cx="326" r="2.2"/><text class="tb e" transform="translate(330 0) rotate(180)" dy=".35em">Hap3</text></g>
<g id="b-hap5" transform="rotate(166)"><circle class="db" cx="326" r="2.2"/><text class="tb e" transform="translate(330 0) rotate(180)" dy=".35em">Hap5</text></g>
<g id="b-hap27" transform="rotate(172)"><circle class="db" cx="326" r="2.2"/><text class="tb e" transform="translate(330 0) rotate(180)" dy=".35em">Hap27</text></g>
<g id="b-hap44" transform="rotate(178)"><circle class="db" cx="326" r="2.2"/><text class="tb e" transform="translate(330 0) rotate(180)" dy=".35em">Hap44</text></g>
<g id="b-hap34" transform="rotate(184)"><circle class="db" cx="326" r="2.2"/><text class="tb e" transform="translate(330 0) rotate(180)" dy=".35em">Hap34</text></g>
<g id="b-hap35" transform="rotate(190)"><circle class="db" cx="326" r="2.2"/><text class="tb e" transform="translate(330 0) rotate(180)" dy=".35em">Hap35</text></g>
<g id="b-hap29" transform="rotate(196)"><circle class="db" cx="326" r="2.2"/><text class="tb e" transform="translate(330 0) rotate(180)" dy=".35em">Hap29</text></g>
<g id="b-hap37" transform="rotate(202)"><circle class="db" cx="326" r="2.2"/><text class="tb e" transform="translate(330 0) rotate(180)" dy=".35em">Hap37</text></g>
<g id="b-hap32" transform="rotate(208)"><circle class="db" cx="326" r="2.2"/><text class="tb e" transform="translate(330 0) rotate(180)" dy=".35em">Hap32</text></g>
<g id="b-hap18" transform="rotate(214)"><circle class="db" cx="326" r="2.2"/><text class="tb e" transform="translate(330 0) rotate(180)" dy=".35em">Hap18</text></g>
</g>
</svg>
